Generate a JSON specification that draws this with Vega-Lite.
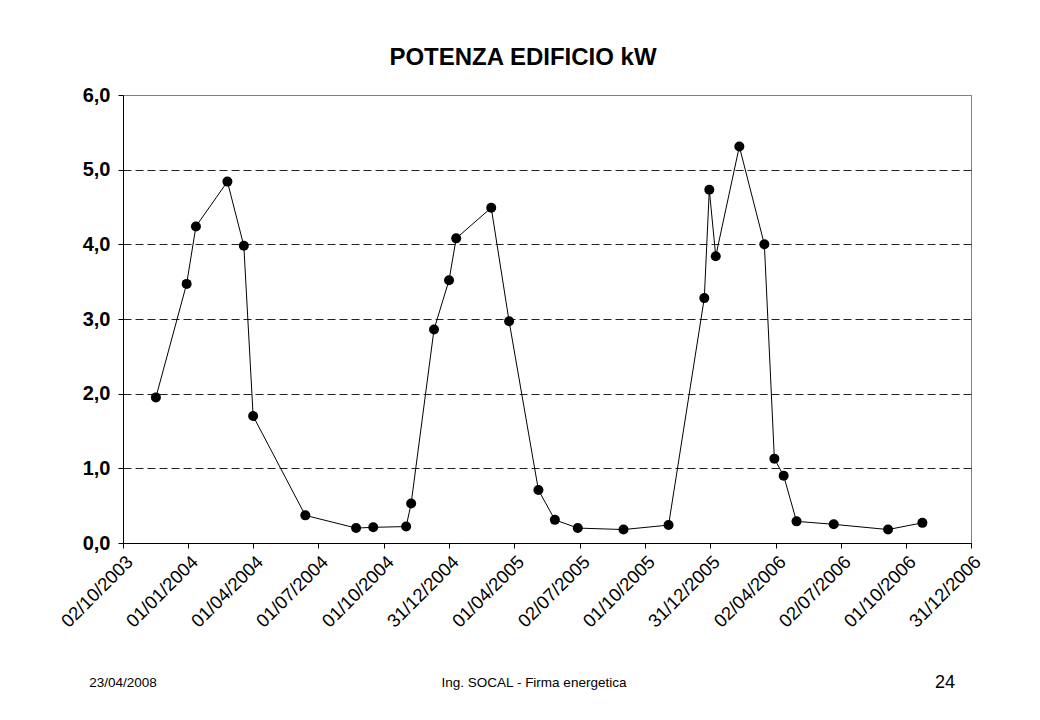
{
  "$schema": "https://vega.github.io/schema/vega-lite/v6.json",
  "background": "white",
  "padding": {"left": 57, "top": 45, "right": 10, "bottom": 10},
  "bounds": "flush",
  "spacing": 130,
  "config": {"font": "Liberation Sans", "view": {"stroke": "#808080", "strokeWidth": 1}},
  "vconcat": [
    {
      "width": 848,
      "height": 448,
      "title": {"text": "POTENZA EDIFICIO kW", "font": "Liberation Sans", "fontSize": 24, "fontWeight": "bold", "color": "black", "anchor": "middle", "dx": -24, "offset": 15},
      "data": {"values": [
        {"giorno": "2003-11-17", "kW": 1.95},
        {"giorno": "2003-12-30", "kW": 3.47},
        {"giorno": "2004-01-12", "kW": 4.24},
        {"giorno": "2004-02-25", "kW": 4.84},
        {"giorno": "2004-03-19", "kW": 3.98},
        {"giorno": "2004-04-01", "kW": 1.70},
        {"giorno": "2004-06-13", "kW": 0.37},
        {"giorno": "2004-08-23", "kW": 0.20},
        {"giorno": "2004-09-16", "kW": 0.21},
        {"giorno": "2004-11-01", "kW": 0.22},
        {"giorno": "2004-11-08", "kW": 0.53},
        {"giorno": "2004-12-10", "kW": 2.86},
        {"giorno": "2004-12-31", "kW": 3.52},
        {"giorno": "2005-01-10", "kW": 4.08},
        {"giorno": "2005-02-28", "kW": 4.49},
        {"giorno": "2005-03-25", "kW": 2.97},
        {"giorno": "2005-05-05", "kW": 0.71},
        {"giorno": "2005-05-28", "kW": 0.31},
        {"giorno": "2005-06-29", "kW": 0.20},
        {"giorno": "2005-09-01", "kW": 0.18},
        {"giorno": "2005-11-03", "kW": 0.24},
        {"giorno": "2005-12-23", "kW": 3.28},
        {"giorno": "2005-12-30", "kW": 4.73},
        {"giorno": "2006-01-08", "kW": 3.84},
        {"giorno": "2006-02-10", "kW": 5.31},
        {"giorno": "2006-03-17", "kW": 4.00},
        {"giorno": "2006-03-31", "kW": 1.13},
        {"giorno": "2006-04-13", "kW": 0.90},
        {"giorno": "2006-05-01", "kW": 0.29},
        {"giorno": "2006-06-22", "kW": 0.25},
        {"giorno": "2006-09-06", "kW": 0.18},
        {"giorno": "2006-10-24", "kW": 0.27}
      ]},
      "encoding": {
        "x": {
          "field": "giorno", "type": "temporal",
          "scale": {"type": "utc", "nice": false, "domain": [
            {"year": 2003, "month": 10, "date": 2, "utc": true},
            {"year": 2006, "month": 12, "date": 31, "utc": true}
          ]},
          "axis": {
            "values": [
              {"year": 2003, "month": 10, "date": 2, "utc": true},
              {"year": 2004, "month": 1, "date": 1, "utc": true},
              {"year": 2004, "month": 4, "date": 1, "utc": true},
              {"year": 2004, "month": 7, "date": 1, "utc": true},
              {"year": 2004, "month": 10, "date": 1, "utc": true},
              {"year": 2004, "month": 12, "date": 31, "utc": true},
              {"year": 2005, "month": 4, "date": 1, "utc": true},
              {"year": 2005, "month": 7, "date": 2, "utc": true},
              {"year": 2005, "month": 10, "date": 1, "utc": true},
              {"year": 2005, "month": 12, "date": 31, "utc": true},
              {"year": 2006, "month": 4, "date": 2, "utc": true},
              {"year": 2006, "month": 7, "date": 2, "utc": true},
              {"year": 2006, "month": 10, "date": 1, "utc": true},
              {"year": 2006, "month": 12, "date": 31, "utc": true}
            ],
            "format": "%d/%m/%Y",
            "labelAngle": -45,
            "labelFont": "Liberation Sans",
            "labelFontSize": 18.5,
            "labelColor": "black",
            "labelOverlap": false,
            "labelFlush": false,
            "labelBound": false,
            "labelPadding": 4,
            "tickColor": "black",
            "tickSize": 5,
            "domainColor": "black",
            "grid": false,
            "title": null
          }
        },
        "y": {
          "field": "kW", "type": "quantitative",
          "scale": {"domain": [0, 6], "nice": false},
          "axis": {
            "values": [0, 1, 2, 3, 4, 5, 6],
            "labelExpr": "replace(format(datum.value, '.1f'), '.', ',')",
            "labelFont": "Liberation Sans",
            "labelFontSize": 20,
            "labelFontWeight": "bold",
            "labelColor": "black",
            "labelPadding": 8,
            "tickColor": "black",
            "tickSize": 5,
            "domainColor": "black",
            "grid": true,
            "gridColor": {"condition": {"test": "datum.value == 6", "value": "#808080"}, "value": "#222222"},
            "gridDash": [8, 4],
            "gridWidth": 1,
            "title": null
          }
        }
      },
      "layer": [
        {"mark": {"type": "line", "color": "black", "strokeWidth": 1}, "encoding": {}},
        {"mark": {"type": "point", "filled": true, "color": "black", "size": 100, "opacity": 1}}
      ]
    },
    {
      "width": 822,
      "height": 20,
      "view": {"stroke": null},
      "data": {"values": [
        {"voce": "data", "testo": "23/04/2008"},
        {"voce": "autore", "testo": "Ing. SOCAL -  Firma energetica"},
        {"voce": "pagina", "testo": "24"}
      ]},
      "encoding": {
        "x": {"field": "voce", "type": "nominal", "scale": {"type": "point", "domain": ["data", "autore", "pagina"], "padding": 0}, "axis": null},
        "text": {"field": "testo"}
      },
      "layer": [
        {"transform": [{"filter": "datum.voce != 'pagina'"}], "mark": {"type": "text", "fontSize": 13.5, "color": "black", "font": "Liberation Sans"}},
        {"transform": [{"filter": "datum.voce == 'pagina'"}], "mark": {"type": "text", "fontSize": 18, "color": "black", "font": "Liberation Sans"}}
      ]
    }
  ]
}
